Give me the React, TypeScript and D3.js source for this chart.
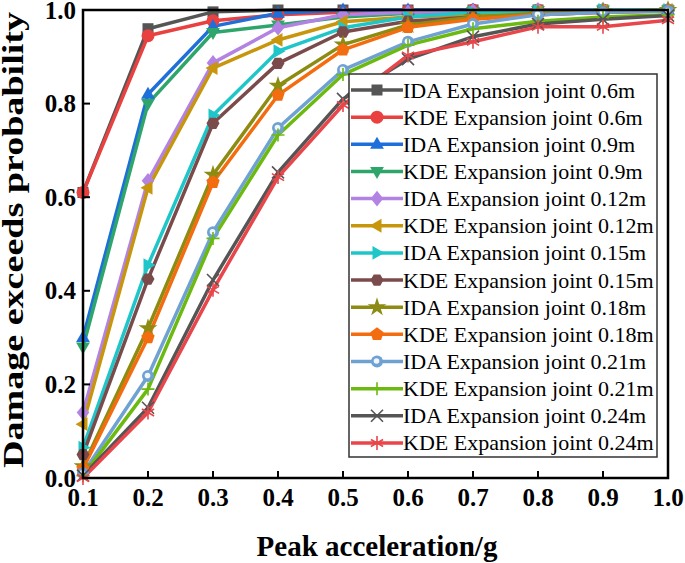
import React from "react";
import * as d3 from "d3";

const xValues = [0.1, 0.2, 0.3, 0.4, 0.5, 0.6, 0.7, 0.8, 0.9, 1.0];
const xTicks = [0.1, 0.2, 0.3, 0.4, 0.5, 0.6, 0.7, 0.8, 0.9, 1.0];
const yTicks = [0.0, 0.2, 0.4, 0.6, 0.8, 1.0];

const seriesNames = [
  "IDA Expansion joint 0.6m",
  "KDE Expansion joint 0.6m",
  "IDA Expansion joint 0.9m",
  "KDE Expansion joint 0.9m",
  "IDA Expansion joint 0.12m",
  "KDE Expansion joint 0.12m",
  "IDA Expansion joint 0.15m",
  "KDE Expansion joint 0.15m",
  "IDA Expansion joint 0.18m",
  "KDE Expansion joint 0.18m",
  "IDA Expansion joint 0.21m",
  "KDE Expansion joint 0.21m",
  "IDA Expansion joint 0.24m",
  "KDE Expansion joint 0.24m",
];

const ida06 = [0.61, 0.96, 0.996, 1.0, 1.0, 1.0, 1.0, 1.0, 1.0, 1.0];
const kde06 = [0.61, 0.945, 0.977, 0.99, 0.995, 0.998, 1.0, 1.0, 1.0, 1.0];
const ida09 = [0.3, 0.82, 0.965, 0.993, 1.0, 1.0, 1.0, 1.0, 1.0, 1.0];
const kde09 = [0.28, 0.8, 0.952, 0.968, 0.985, 0.993, 0.997, 0.999, 1.0, 1.0];
const ida012 = [0.14, 0.635, 0.887, 0.962, 0.99, 0.995, 0.998, 1.0, 1.0, 1.0];
const kde012 = [0.115, 0.62, 0.876, 0.936, 0.975, 0.985, 0.99, 0.995, 0.998, 1.0];
const ida015 = [0.065, 0.455, 0.775, 0.912, 0.962, 0.985, 0.995, 0.998, 1.0, 1.0];
const kde015 = [0.05, 0.425, 0.758, 0.886, 0.953, 0.976, 0.985, 0.99, 0.995, 0.998];
const ida018 = [0.025, 0.32, 0.648, 0.838, 0.926, 0.968, 0.985, 0.993, 0.997, 1.0];
const kde018 = [0.02, 0.3, 0.632, 0.818, 0.915, 0.963, 0.98, 0.99, 0.995, 0.998];
const ida021 = [0.01, 0.218, 0.525, 0.748, 0.872, 0.932, 0.97, 0.99, 0.995, 0.998];
const kde021 = [0.005, 0.19, 0.512, 0.733, 0.862, 0.925, 0.96, 0.976, 0.985, 0.99];
const ida024 = [0.005, 0.15, 0.423, 0.653, 0.81, 0.895, 0.943, 0.97, 0.98, 0.988];
const kde024 = [0.0, 0.14, 0.402, 0.643, 0.797, 0.903, 0.932, 0.964, 0.964, 0.978];

const seriesValues = [
  ida06, kde06, ida09, kde09, ida012, kde012, ida015, kde015,
  ida018, kde018, ida021, kde021, ida024, kde024,
];

const seriesColors = [
  "#555555", "#e8413f", "#1e6fd9", "#2ea66b", "#b383e3", "#c8960c", "#1fc6c9",
  "#7b4b4b", "#8c8c12", "#f46c10", "#6fa2d2", "#6cb90f", "#555555", "#e8464a",
];

const seriesMarkers = [
  "square", "circle", "triUp", "triDown", "diamond", "triLeft", "triRight",
  "hexagon", "star", "pentagon", "dotCircle", "plus", "cross", "asterisk",
];

const W = 685;
const H = 563;
const left = 83;
const right = 668;
const top = 10;
const bottom = 478;

const SERIF = "'Liberation Serif', 'Times New Roman', Times, serif";

function poly(n: number, r: number, rot: number) {
  const pts: string[] = [];
  for (let i = 0; i < n; i++) {
    const a = rot + (i * 2 * Math.PI) / n;
    pts.push(`${(r * Math.cos(a)).toFixed(2)},${(r * Math.sin(a)).toFixed(2)}`);
  }
  return "M" + pts.join("L") + "Z";
}

function Marker({ type, color, x, y }: { type: string; color: string; x: number; y: number }) {
  const t = `translate(${x},${y})`;
  const r = 6;
  switch (type) {
    case "square":
      return <rect x={x - 5.5} y={y - 5.5} width={11} height={11} fill={color} />;
    case "circle":
      return <circle cx={x} cy={y} r={6.5} fill={color} />;
    case "dotCircle":
      return (
        <g transform={t}>
          <circle r={6} fill={color} />
          <circle r={2.8} cx={-0.5} cy={-0.5} fill="#ffffff" opacity={0.9} />
        </g>
      );
    case "triUp":
      return <path transform={t} d={`M0,${-r * 1.25}L${r * 1.15},${r * 0.75}L${-r * 1.15},${r * 0.75}Z`} fill={color} />;
    case "triDown":
      return <path transform={t} d={`M0,${r * 1.25}L${r * 1.15},${-r * 0.75}L${-r * 1.15},${-r * 0.75}Z`} fill={color} />;
    case "triLeft":
      return <path transform={t} d={`M${-r * 1.25},0L${r * 0.75},${-r * 1.15}L${r * 0.75},${r * 1.15}Z`} fill={color} />;
    case "triRight":
      return <path transform={t} d={`M${r * 1.25},0L${-r * 0.75},${-r * 1.15}L${-r * 0.75},${r * 1.15}Z`} fill={color} />;
    case "diamond":
      return <path transform={t} d={`M0,${-r * 1.3}L${r * 1.05},0L0,${r * 1.3}L${-r * 1.05},0Z`} fill={color} />;
    case "hexagon":
      return <path transform={t} d={poly(6, 6.5, 0)} fill={color} />;
    case "pentagon":
      return <path transform={t} d={poly(5, 7, -Math.PI / 2)} fill={color} />;
    case "star":
      return <path transform={t} d={d3.symbol(d3.symbolStar, 110)() || ""} fill={color} />;
    case "plus":
      return (
        <path transform={t} d="M-6.5,0H6.5M0,-6.5V6.5" stroke={color} strokeWidth={1.6} fill="none" />
      );
    case "cross":
      return (
        <path transform={t} d="M-6,-6L6,6M-6,6L6,-6" stroke={color} strokeWidth={1.6} fill="none" />
      );
    case "asterisk":
      return (
        <path
          transform={t}
          d="M0,-7V7M-6.1,-3.5L6.1,3.5M-6.1,3.5L6.1,-3.5"
          stroke={color}
          strokeWidth={1.6}
          fill="none"
        />
      );
    default:
      return null;
  }
}

export default function App() {
  const x = d3.scaleLinear().domain([0.1, 1.0]).range([left, right]);
  const y = d3.scaleLinear().domain([0, 1]).range([bottom, top]);
  const line = d3
    .line<number>()
    .x((_, i) => x(xValues[i]))
    .y((d) => y(d));

  const legX = 349;
  const legY = 74;
  const legW = 308;
  const legH = 383;
  const rowY0 = 90;
  const rowStep = 27.15;
  const ts = { fontFamily: SERIF };

  return (
    <svg
      width={W}
      height={H}
      style={{ position: "absolute", left: 0, top: 0, background: "#fff" }}
    >
      {seriesValues.map((vals, si) => (
        <path
          key={"l" + si}
          d={line(vals) || ""}
          fill="none"
          stroke={seriesColors[si]}
          strokeWidth={3.5}
          strokeLinejoin="round"
        />
      ))}
      {seriesValues.map((vals, si) => (
        <g key={"m" + si}>
          {vals.map((v, i) => (
            <Marker key={i} type={seriesMarkers[si]} color={seriesColors[si]} x={x(xValues[i])} y={y(v)} />
          ))}
        </g>
      ))}

      <rect x={left} y={top} width={right - left} height={bottom - top} fill="none" stroke="#000" strokeWidth={2.5} />

      {xTicks.map((t) => (
        <g key={"xt" + t}>
          <line x1={x(t)} x2={x(t)} y1={bottom} y2={bottom - 7} stroke="#000" strokeWidth={2} />
          <text x={x(t)} y={506} textAnchor="middle" fontSize={25} fontWeight="bold" style={ts}>
            {t.toFixed(1)}
          </text>
        </g>
      ))}
      {yTicks.map((t) => (
        <g key={"yt" + t}>
          <line x1={left} x2={left + 7} y1={y(t)} y2={y(t)} stroke="#000" strokeWidth={2} />
          <text x={76} y={y(t) + 8.5} textAnchor="end" fontSize={25} fontWeight="bold" style={ts}>
            {t.toFixed(1)}
          </text>
        </g>
      ))}

      <text x={377} y={556} textAnchor="middle" fontSize={29} fontWeight="bold" style={ts}>
        Peak acceleration/g
      </text>
      <text
        transform="rotate(-90)"
        x={-240}
        y={23}
        textAnchor="middle"
        fontSize={29}
        fontWeight="bold"
        textLength={456}
        lengthAdjust="spacingAndGlyphs"
        style={ts}
      >
        Damage exceeds probability
      </text>

      <rect x={legX} y={legY} width={legW} height={legH} fill="#fff" stroke="#333" strokeWidth={1.5} />
      {seriesNames.map((name, si) => {
        const ry = rowY0 + si * rowStep;
        return (
          <g key={"lg" + si}>
            <line x1={351} x2={403} y1={ry} y2={ry} stroke={seriesColors[si]} strokeWidth={3.5} />
            <Marker type={seriesMarkers[si]} color={seriesColors[si]} x={377} y={ry} />
            <text x={403} y={ry + 7.5} fontSize={22} style={ts}>
              {name}
            </text>
          </g>
        );
      })}
    </svg>
  );
}
